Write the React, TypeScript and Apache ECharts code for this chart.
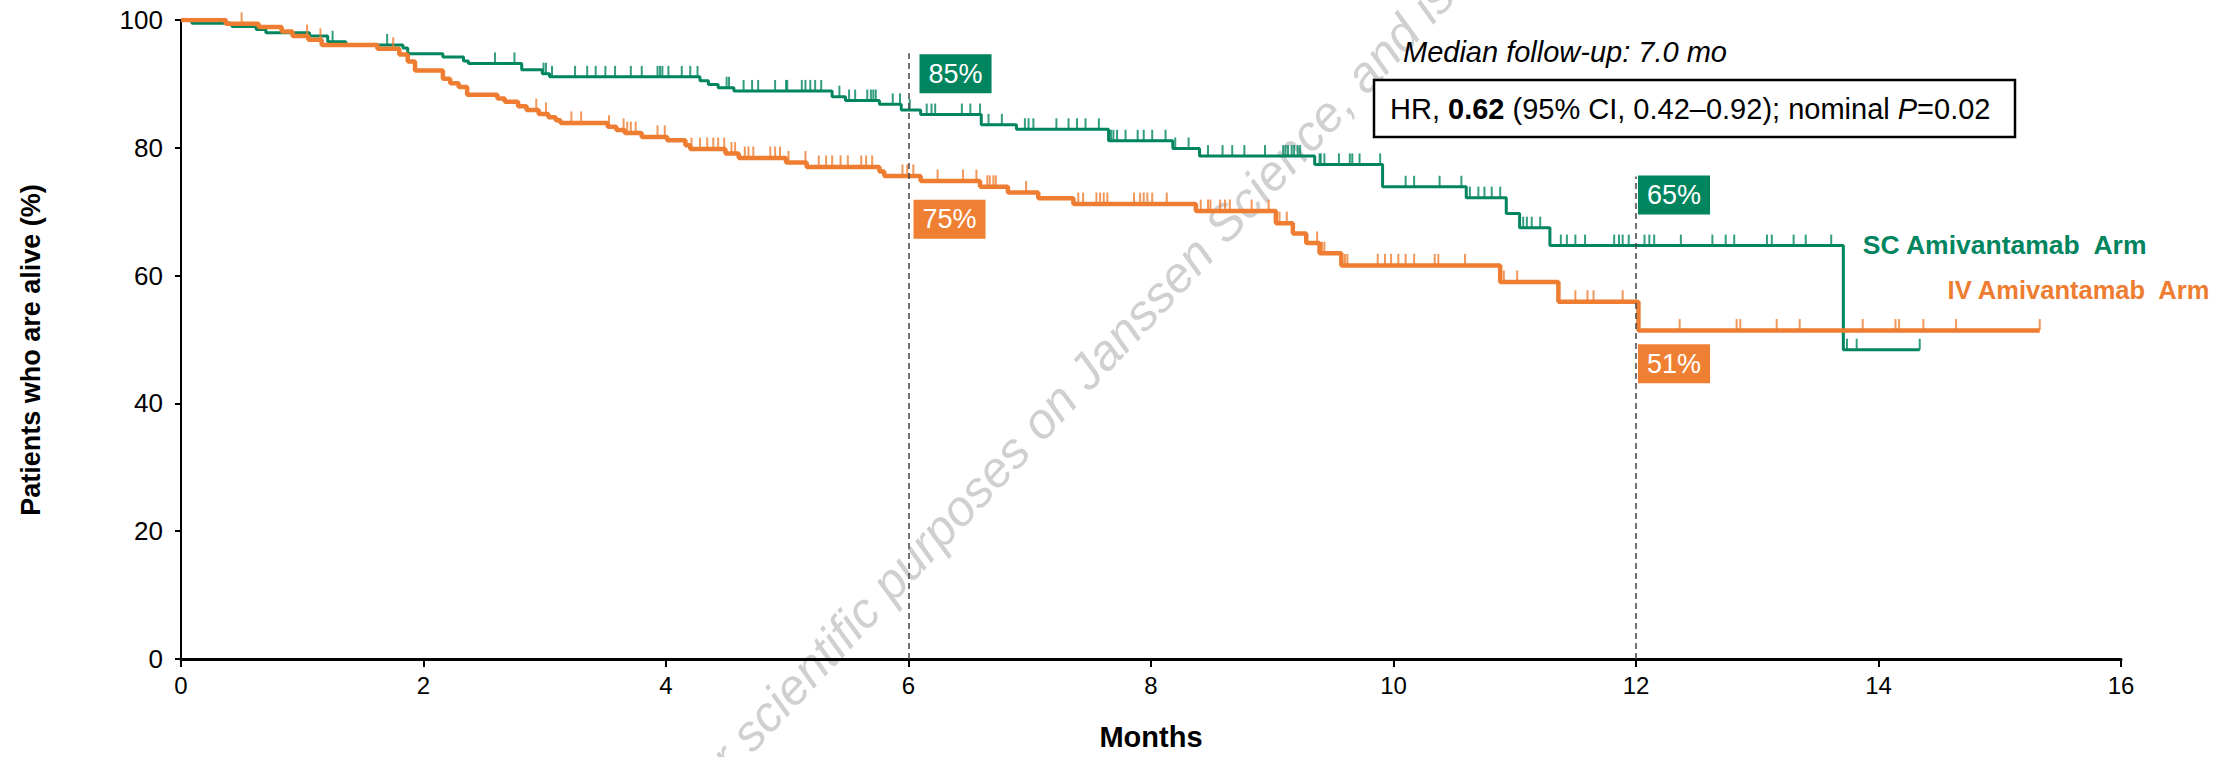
import React, { useEffect, useRef } from "react";
import * as echarts from "echarts";

// ---------- data ----------
const monthTicks = { min: 0, max: 16, interval: 2 };
const pctTicks = { min: 0, max: 100, interval: 20 };

const scName = "SC Amivantamab  Arm";
const ivName = "IV Amivantamab  Arm";
const yTitle = "Patients who are alive (%)";

// Kaplan-Meier step points: survival value holds from each time onward
const scTimes = [0, 0.09, 0.42, 0.62, 0.7, 1.06, 1.21, 1.36, 1.83, 1.87, 2.16, 2.33, 2.37, 2.81, 2.98, 3.04, 4.28, 4.35, 4.43, 4.56, 5.37, 5.48, 5.76, 5.94, 6.1, 6.6, 6.89, 7.65, 8.18, 8.4, 9.35, 9.91, 10.6, 10.93, 11.04, 11.29, 13.71, 14.34];
const scSurv = [100, 99.5, 99.0, 98.5, 98.0, 97.5, 96.6, 96.1, 95.6, 94.7, 94.2, 93.6, 93.2, 92.2, 91.6, 91.1, 90.5, 89.9, 89.4, 88.9, 88.0, 87.4, 86.8, 85.9, 85.2, 83.6, 82.9, 81.1, 79.9, 78.7, 77.4, 73.9, 72.2, 69.7, 67.5, 64.7, 48.4, 48.4];

const ivTimes = [0, 0.37, 0.64, 0.83, 0.92, 1.05, 1.16, 1.62, 1.8, 1.87, 1.93, 2.16, 2.22, 2.29, 2.36, 2.61, 2.67, 2.78, 2.85, 2.95, 3.03, 3.09, 3.13, 3.52, 3.59, 3.66, 3.8, 4.01, 4.16, 4.2, 4.49, 4.6, 4.99, 5.16, 5.76, 5.8, 6.1, 6.59, 6.82, 7.07, 7.36, 8.37, 9.03, 9.17, 9.28, 9.39, 9.57, 10.88, 11.36, 12.02, 15.33];
const ivSurv = [100, 99.4, 98.9, 98.2, 97.5, 96.9, 96.1, 95.5, 94.6, 93.5, 92.1, 90.8, 90.1, 89.5, 88.3, 87.7, 87.2, 86.5, 85.9, 85.3, 84.8, 84.3, 83.9, 83.3, 82.8, 82.3, 81.7, 81.2, 80.4, 79.8, 79.1, 78.4, 77.7, 77.0, 76.3, 75.6, 74.8, 73.9, 73.0, 72.1, 71.2, 70.1, 68.2, 66.6, 65.1, 63.5, 61.6, 59.0, 55.9, 51.4, 51.4];

// censoring times (tick marks)
const scCensor = [1.25, 1.7, 2.59, 2.75, 2.99, 3.01, 3.06, 3.25, 3.35, 3.42, 3.5, 3.58, 3.71, 3.8, 3.93, 3.95, 3.97, 4.02, 4.13, 4.2, 4.26, 4.5, 4.52, 4.64, 4.71, 4.76, 4.9, 4.99, 5.0, 5.12, 5.15, 5.19, 5.23, 5.28, 5.43, 5.51, 5.56, 5.66, 5.69, 5.71, 5.73, 5.87, 5.93, 6.01, 6.15, 6.19, 6.22, 6.44, 6.51, 6.59, 6.66, 6.77, 6.96, 6.99, 7.03, 7.22, 7.32, 7.39, 7.46, 7.57, 7.67, 7.69, 7.72, 7.79, 7.89, 7.94, 8.01, 8.12, 8.2, 8.31, 8.47, 8.59, 8.67, 8.77, 8.94, 9.09, 9.11, 9.13, 9.16, 9.18, 9.21, 9.23, 9.39, 9.4, 9.43, 9.55, 9.64, 9.66, 9.72, 9.89, 10.1, 10.17, 10.38, 10.56, 10.63, 10.7, 10.75, 10.81, 10.88, 11.07, 11.1, 11.14, 11.21, 11.38, 11.43, 11.5, 11.58, 11.82, 11.86, 11.89, 11.94, 12.07, 12.11, 12.15, 12.37, 12.63, 12.74, 12.81, 13.08, 13.12, 13.3, 13.4, 13.61, 13.74, 13.82, 14.34];
const ivCensor = [0.5, 1.04, 1.15, 1.75, 2.93, 3.01, 3.22, 3.3, 3.53, 3.65, 3.68, 3.71, 3.75, 3.93, 3.99, 4.21, 4.28, 4.34, 4.39, 4.43, 4.48, 4.54, 4.57, 4.65, 4.68, 4.72, 4.86, 4.9, 4.94, 5.01, 5.15, 5.26, 5.32, 5.37, 5.44, 5.5, 5.61, 5.65, 5.7, 5.95, 5.99, 6.04, 6.24, 6.45, 6.56, 6.65, 6.67, 6.7, 6.72, 6.97, 7.4, 7.44, 7.55, 7.58, 7.61, 7.64, 7.86, 7.91, 7.94, 7.97, 8.01, 8.13, 8.41, 8.47, 8.49, 8.57, 8.61, 8.65, 8.83, 8.97, 9.06, 9.12, 9.37, 9.41, 9.43, 9.6, 9.62, 9.87, 9.93, 9.98, 10.04, 10.1, 10.17, 10.34, 10.37, 10.59, 10.91, 11.02, 11.5, 11.6, 11.65, 11.89, 12.36, 12.83, 12.86, 13.16, 13.35, 13.87, 14.14, 14.17, 14.37, 14.64, 15.33];

// landmark estimates
const landmarkMonths = [6, 12];
const landmarkTop = [94.8, 75.5];
const landmarkLabels = [
  { month: 6, arm: "sc", text: "85%", y: 91.6 },
  { month: 6, arm: "iv", text: "75%", y: 68.8 },
  { month: 12, arm: "sc", text: "65%", y: 72.6 },
  { month: 12, arm: "iv", text: "51%", y: 46.2 },
];

const followUpText = "Median follow-up: 7.0 mo";
const watermarkText = "uted for scientific purposes on Janssen Science, and is";

// ---------- styles ----------
const GREEN = "#00855F";
const ORANGE = "#EE7D31";
const FONT = "'Liberation Sans', Arial, Helvetica, sans-serif";

function stepPoints(times: number[], surv: number[]) {
  return times.map((t, i) => [t, surv[i]]);
}
function survAt(times: number[], surv: number[], t: number) {
  let v = surv[0];
  for (let i = 0; i < times.length; i++) if (times[i] <= t + 1e-9) v = surv[i];
  return v;
}

export default function App() {
  const ref = useRef<HTMLDivElement>(null);

  useEffect(() => {
    document.body.style.margin = "0";
    const chart = echarts.init(ref.current!, null, { renderer: "svg" });

    const option: any = {
      animation: false,
      backgroundColor: "#ffffff",
      grid: { left: 181, right: 112, top: 20, bottom: 98, containLabel: false },
      xAxis: {
        type: "value",
        ...monthTicks,
        name: "Months",
        nameLocation: "middle",
        nameGap: 63,
        nameTextStyle: { fontFamily: FONT, fontWeight: "bold", fontSize: 29, color: "#000" },
        axisLine: { show: true, onZero: false, lineStyle: { color: "#000", width: 3 } },
        axisTick: { show: true, length: 8, lineStyle: { color: "#000", width: 2 } },
        axisLabel: { fontFamily: FONT, fontSize: 24, color: "#000", margin: 14 },
        splitLine: { show: false },
      },
      yAxis: {
        type: "value",
        ...pctTicks,
        axisLine: { show: true, lineStyle: { color: "#000", width: 2 } },
        axisTick: { show: true, length: 6, lineStyle: { color: "#000", width: 2 } },
        axisLabel: { fontFamily: FONT, fontSize: 26, color: "#000", margin: 18 },
        splitLine: { show: false },
      },
      series: [
        {
          name: scName,
          type: "line",
          step: "end",
          data: stepPoints(scTimes, scSurv),
          symbol: "none",
          lineStyle: { color: GREEN, width: 3 },
          z: 3,
          silent: true,
          markLine: {
            silent: true,
            symbol: ["none", "none"],
            label: { show: false },
            lineStyle: { color: "#444", width: 1.5, type: [6, 4] },
            data: landmarkMonths.map((m, i) => [{ coord: [m, 0] }, { coord: [m, landmarkTop[i]] }]),
          },
        },
        {
          name: ivName,
          type: "line",
          step: "end",
          data: stepPoints(ivTimes, ivSurv),
          symbol: "none",
          lineStyle: { color: ORANGE, width: 4.5 },
          z: 4,
          silent: true,
        },
        {
          name: scName + " censored",
          type: "scatter",
          data: scCensor.map((t) => [t, survAt(scTimes, scSurv, t)]),
          symbol: "rect",
          symbolSize: [2, 11],
          symbolOffset: [0, -5.5],
          itemStyle: { color: GREEN },
          z: 3,
          silent: true,
        },
        {
          name: ivName + " censored",
          type: "scatter",
          data: ivCensor.map((t) => [t, survAt(ivTimes, ivSurv, t)]),
          symbol: "rect",
          symbolSize: [2, 11],
          symbolOffset: [0, -6],
          itemStyle: { color: ORANGE },
          z: 4,
          silent: true,
        },
      ],
    };
    chart.setOption(option);

    const px = (x: number, y: number) => chart.convertToPixel({ gridIndex: 0 }, [x, y]) as number[];

    const graphics: any[] = [];
    graphics.push({
      type: "text",
      x: 1030,
      y: 432,
      rotation: (47 * Math.PI) / 180,
      z: 0,
      silent: true,
      style: {
        text: watermarkText,
        fontFamily: FONT,
        fontStyle: "italic",
        fontSize: 50,
        fill: "#d0d0d0",
        align: "center",
        verticalAlign: "middle",
      },
    });

    // y axis title
    graphics.push({
      type: "text",
      x: 31,
      y: 350,
      rotation: Math.PI / 2,
      z: 20,
      style: {
        text: yTitle,
        fontFamily: FONT,
        fontWeight: "bold",
        fontSize: 27,
        fill: "#000",
        align: "center",
        verticalAlign: "middle",
      },
    });

    landmarkLabels.forEach((l) => {
      const p = px(l.month, l.y);
      const dx = l.month === 6 ? (l.arm === "sc" ? 11 : 5) : 2;
      graphics.push({
        type: "text",
        x: p[0] + dx,
        y: p[1],
        z: 20,
        style: {
          text: l.text,
          fontFamily: FONT,
          fontSize: 27,
          fill: "#ffffff",
          backgroundColor: l.arm === "sc" ? GREEN : "#EF7F33",
          padding: [7, 9, 5, 9],
          align: "left",
          verticalAlign: "middle",
        },
      });
    });

    const scEnd = px(13.87, 64.8);
    const ivEnd = px(14.57, 57.7);
    graphics.push({
      type: "text",
      x: scEnd[0],
      y: scEnd[1],
      z: 20,
      style: { text: scName, fontFamily: FONT, fontWeight: "bold", fontSize: 26.5, fill: GREEN, align: "left", verticalAlign: "middle" },
    });
    graphics.push({
      type: "text",
      x: ivEnd[0],
      y: ivEnd[1],
      z: 20,
      style: { text: ivName, fontFamily: FONT, fontWeight: "bold", fontSize: 25.5, fill: ORANGE, align: "left", verticalAlign: "middle" },
    });

    graphics.push({
      type: "text",
      x: 1403,
      y: 52,
      z: 20,
      style: { text: followUpText, fontFamily: FONT, fontStyle: "italic", fontSize: 29, fill: "#000", align: "left", verticalAlign: "middle" },
    });
    graphics.push({
      type: "rect",
      z: 19,
      shape: { x: 1374, y: 80, width: 641, height: 57 },
      style: { fill: "#fff", stroke: "#000", lineWidth: 2.5 },
    });
    const base = { fontFamily: FONT, fontSize: 29, fill: "#000" };
    graphics.push({
      type: "text",
      x: 1390,
      y: 109,
      z: 20,
      style: {
        text: "{n|HR, }{b|0.62}{n| (95% CI, 0.42–0.92); nominal }{i|P}{n|=0.02}",
        ...base,
        verticalAlign: "middle",
        align: "left",
        rich: {
          n: { ...base },
          b: { ...base, fontWeight: "bold" },
          i: { ...base, fontStyle: "italic" },
        },
      },
    });

    chart.setOption({ graphic: graphics });

    return () => chart.dispose();
  }, []);

  return <div ref={ref} style={{ position: "absolute", left: 0, top: 0, width: 2233, height: 757 }} />;
}
